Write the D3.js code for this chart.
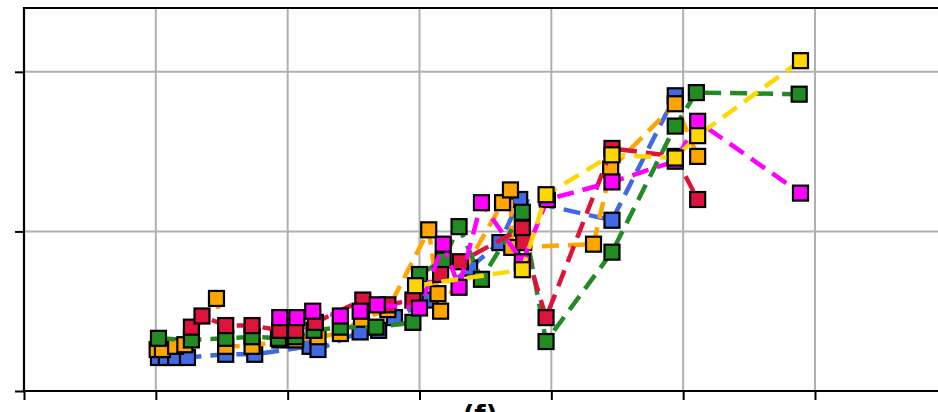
<!DOCTYPE html>
<html>
<head>
<meta charset="utf-8">
<script src="https://cdn.jsdelivr.net/npm/d3@7"></script>
<style>
  html, body { margin: 0; padding: 0; background: #fff; overflow: hidden; }
  svg { display: block; }
</style>
</head>
<body>
<svg id="chart" width="938" height="412"></svg>
<script>
// ---- data (units of the tick grid) ----
const xTicks = [0, 1, 2, 3, 4, 5, 6];
const yTicks = [0, 1, 2];
const panelLabel = "(f)";

const blueX   = [1.02,1.08,1.15,1.24,1.53,1.75,2.17,2.23,2.55,2.69,2.81,3.08,3.38,3.61,3.76,4.46,4.94];
const blueY   = [0.21,0.21,0.21,0.21,0.23,0.23,0.28,0.26,0.37,0.38,0.46,0.57,0.77,0.93,1.20,1.07,1.85];

const orangeX = [1.01,1.05,1.15,1.22,1.46,1.53,1.73,1.94,2.06,2.23,2.40,2.56,2.76,3.07,3.14,3.16,3.63,3.69,3.70,4.32,4.45,4.94,5.11];
const orangeY = [0.26,0.26,0.28,0.29,0.58,0.28,0.28,0.32,0.32,0.34,0.36,0.45,0.51,1.01,0.61,0.50,1.18,1.26,0.90,0.92,1.39,1.80,1.47];

const greenX  = [1.02,1.27,1.53,1.73,1.93,2.06,2.20,2.40,2.67,2.95,3.00,3.18,3.30,3.47,3.78,3.96,4.46,4.94,5.10,5.88];
const greenY  = [0.33,0.32,0.33,0.34,0.33,0.34,0.38,0.40,0.40,0.43,0.73,0.82,1.03,0.70,1.12,0.31,0.87,1.66,1.87,1.86];

const redX    = [1.27,1.35,1.53,1.73,1.94,2.06,2.21,2.57,2.76,2.95,3.16,3.31,3.78,3.79,3.96,4.46,4.94,5.11];
const redY    = [0.40,0.47,0.41,0.41,0.38,0.38,0.43,0.57,0.54,0.57,0.73,0.81,1.02,0.93,0.46,1.52,1.47,1.20];

const magentaX = [1.94,2.07,2.19,2.40,2.55,2.68,3.00,3.18,3.30,3.47,3.78,3.97,4.46,4.94,5.11,5.89];
const magentaY = [0.46,0.46,0.50,0.47,0.50,0.54,0.52,0.92,0.65,1.18,0.81,1.20,1.31,1.44,1.69,1.24];

const goldX   = [2.97,3.78,3.96,4.46,4.94,5.11,5.89];
const goldY   = [0.66,0.76,1.23,1.48,1.46,1.60,2.07];

const seriesNames  = ["blue", "orange", "green", "red", "magenta", "gold"];
const seriesColors = ["#4169E1", "#FFA500", "#228B22", "#DC143C", "#FF00FF", "#FFD700"];
const seriesXs = [blueX, orangeX, greenX, redX, magentaX, goldX];
const seriesYs = [blueY, orangeY, greenY, redY, magentaY, goldY];

// ---- layout ----
const svg = d3.select("#chart");
const padL = 24, padT = 8, padB = 391, padR = 938;

const x = d3.scaleLinear().domain([0, 6.933]).range([padL, padR]);
const y = d3.scaleLinear().domain([0, 2.4]).range([padB, padT]);

// grid
const grid = svg.append("g");
grid.selectAll("line.vx").data(xTicks.filter(d => d > 0)).join("line")
  .attr("x1", d => x(d)).attr("x2", d => x(d))
  .attr("y1", padT).attr("y2", padB)
  .attr("stroke", "#b0b0b0").attr("stroke-width", 2);
grid.selectAll("line.hy").data(yTicks.filter(d => d > 0)).join("line")
  .attr("x1", padL).attr("x2", padR)
  .attr("y1", d => y(d)).attr("y2", d => y(d))
  .attr("stroke", "#b0b0b0").attr("stroke-width", 2);

// series
seriesNames.forEach((name, i) => {
  const pts = seriesXs[i].map((v, j) => [v, seriesYs[i][j]]);
  const g = svg.append("g").attr("class", "series-" + name);
  g.append("path")
    .datum(pts)
    .attr("d", d3.line().x(d => x(d[0])).y(d => y(d[1])))
    .attr("fill", "none")
    .attr("stroke", seriesColors[i])
    .attr("stroke-width", 4.5)
    .attr("stroke-dasharray", "17,9");
  const s = 15;
  g.selectAll("rect").data(pts).join("rect")
    .attr("x", d => x(d[0]) - s / 2)
    .attr("y", d => y(d[1]) - s / 2)
    .attr("width", s).attr("height", s)
    .attr("fill", seriesColors[i])
    .attr("stroke", "#000")
    .attr("stroke-width", 2.2);
});

// axes
const xAxis = d3.axisBottom(x).tickValues(xTicks).tickSize(9).tickFormat("");
const yAxis = d3.axisLeft(y).tickValues(yTicks).tickSize(9).tickFormat("");
const gx = svg.append("g").attr("transform", `translate(0,${padB})`).call(xAxis);
const gy = svg.append("g").attr("transform", `translate(${padL},0)`).call(yAxis);
[gx, gy].forEach(g => {
  g.select(".domain").remove();
  g.selectAll(".tick line").attr("stroke", "#000").attr("stroke-width", 2);
});

// spines
svg.append("line").attr("x1", padL).attr("x2", padL).attr("y1", padT - 1).attr("y2", padB + 1)
  .attr("stroke", "#000").attr("stroke-width", 2.2);
svg.append("line").attr("x1", padL - 1).attr("x2", padR).attr("y1", padB).attr("y2", padB)
  .attr("stroke", "#000").attr("stroke-width", 2.2);
svg.append("line").attr("x1", padL - 1).attr("x2", padR).attr("y1", padT).attr("y2", padT)
  .attr("stroke", "#000").attr("stroke-width", 2.2);

// panel label (cut off at the bottom edge in the reference)
svg.append("text")
  .attr("x", 480).attr("y", 424)
  .attr("text-anchor", "middle")
  .attr("font-family", "DejaVu Sans, sans-serif")
  .attr("font-weight", "bold")
  .attr("font-size", 26)
  .text(panelLabel);
</script>
</body>
</html>
